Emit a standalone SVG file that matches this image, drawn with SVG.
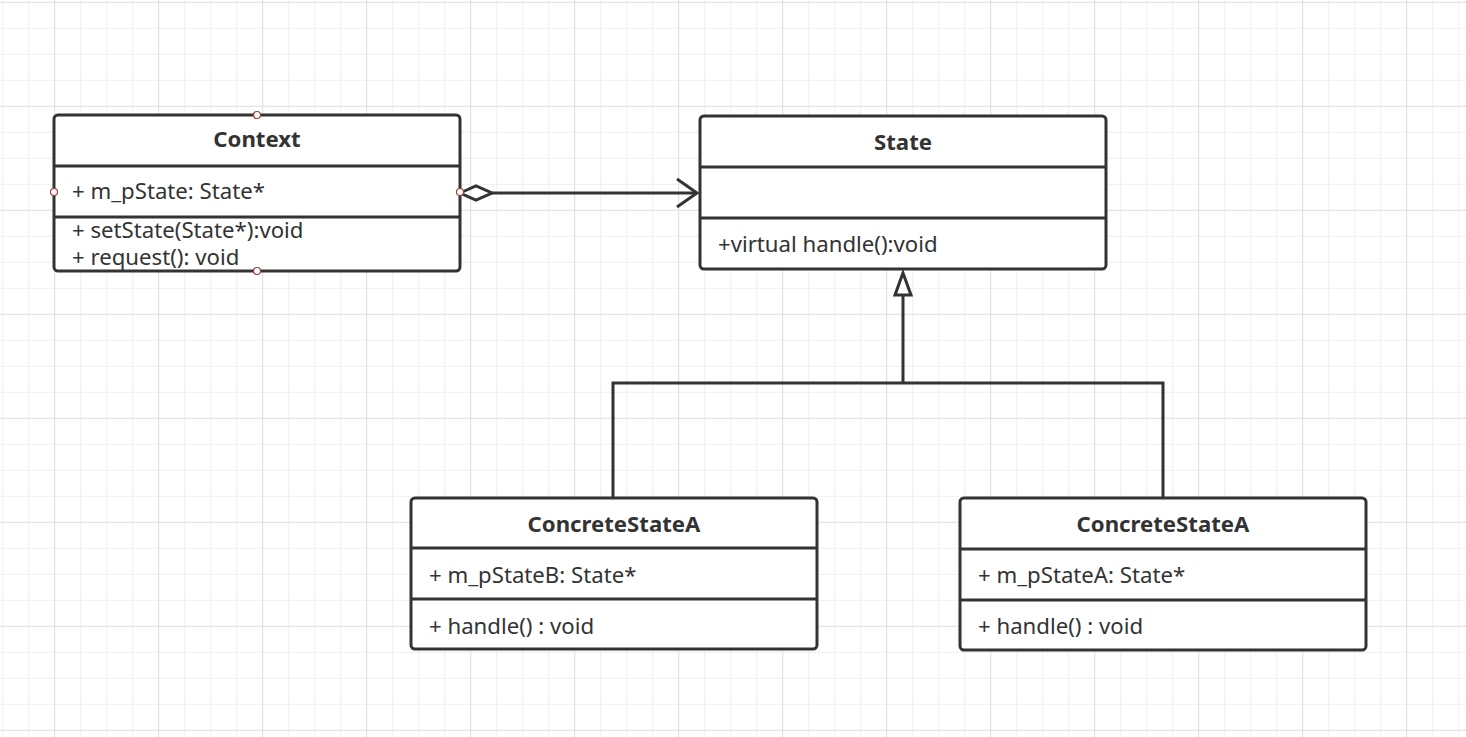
<svg xmlns="http://www.w3.org/2000/svg" width="1466" height="737" viewBox="0 0 1466 737">
<style>
.box{fill:#fff;stroke:#333;stroke-width:3}
.div{stroke:#333;stroke-width:3;fill:none}
.t{font-family:"Noto Sans","Open Sans","Liberation Sans",sans-serif;font-size:22.2px;fill:#333}
.title{font-weight:bold;text-anchor:middle}
.edge{stroke:#333;stroke-width:3;fill:none}
.pt{fill:#fff;stroke:#a03c3c;stroke-width:1.2}
</style>
<defs>
<pattern id="minor" width="26" height="26" patternUnits="userSpaceOnUse" x="2.2" y="1.8">
<path d="M0.5 0V26M0 0.5H26" stroke="#efefef" stroke-width="1" fill="none"/>
</pattern>
<pattern id="major" width="104" height="104" patternUnits="userSpaceOnUse" x="54.2" y="1.8">
<path d="M0.5 0V104M0 0.5H104" stroke="#e2e2e2" stroke-width="1" fill="none"/>
</pattern>
</defs>
<rect width="1466" height="737" fill="#fff"/>
<rect width="1466" height="737" fill="url(#minor)"/>
<rect width="1466" height="737" fill="url(#major)"/>

<g id="connectors">
<g id="aggregation">
<line class="edge" x1="492" y1="193" x2="697" y2="193"/>
<path class="edge" d="M460 193 L476 186 L492 193 L476 200 Z" fill="#fff"/>
<path class="edge" d="M677 179 L697 193 L677 207"/>
</g>
<g id="inheritance">
<path class="edge" d="M613 497 V383 H1163 V498"/>
<line class="edge" x1="903" y1="383" x2="903" y2="295"/>
<path class="edge" d="M903 273 L911 295 L895 295 Z" fill="#fff"/>
</g>
</g>

<g id="context">
<rect class="box" x="54" y="115" width="406" height="156" rx="4"/>
<line class="div" x1="54" y1="166" x2="460" y2="166"/>
<line class="div" x1="54" y1="217" x2="460" y2="217"/>
<text class="t title" x="257" y="147">Context</text>
<text class="t" x="72" y="199">+ m_pState: State*</text>
<text class="t" x="72" y="238">+ setState(State*):void</text>
<text class="t" x="72" y="265">+ request(): void</text>
<circle class="pt" cx="257" cy="115" r="3.5"/>
<circle class="pt" cx="54" cy="192" r="3.5"/>
<circle class="pt" cx="460" cy="192" r="3.5"/>
<circle class="pt" cx="257" cy="271" r="3.5"/>
</g>

<g id="state">
<rect class="box" x="700" y="116" width="406" height="153" rx="4"/>
<line class="div" x1="700" y1="167" x2="1106" y2="167"/>
<line class="div" x1="700" y1="218" x2="1106" y2="218"/>
<text class="t title" x="903" y="150">State</text>
<text class="t" x="718" y="252">+virtual handle():void</text>
</g>

<g id="concreteStateA1">
<rect class="box" x="411" y="498" width="406" height="151" rx="4"/>
<line class="div" x1="411" y1="548" x2="817" y2="548"/>
<line class="div" x1="411" y1="599" x2="817" y2="599"/>
<text class="t title" x="614" y="532">ConcreteStateA</text>
<text class="t" x="429" y="583">+ m_pStateB: State*</text>
<text class="t" x="429" y="634">+ handle() : void</text>
</g>

<g id="concreteStateA2">
<rect class="box" x="960" y="498" width="406" height="152" rx="4"/>
<line class="div" x1="960" y1="549" x2="1366" y2="549"/>
<line class="div" x1="960" y1="600" x2="1366" y2="600"/>
<text class="t title" x="1163" y="532">ConcreteStateA</text>
<text class="t" x="978" y="583">+ m_pStateA: State*</text>
<text class="t" x="978" y="634">+ handle() : void</text>
</g>
</svg>
